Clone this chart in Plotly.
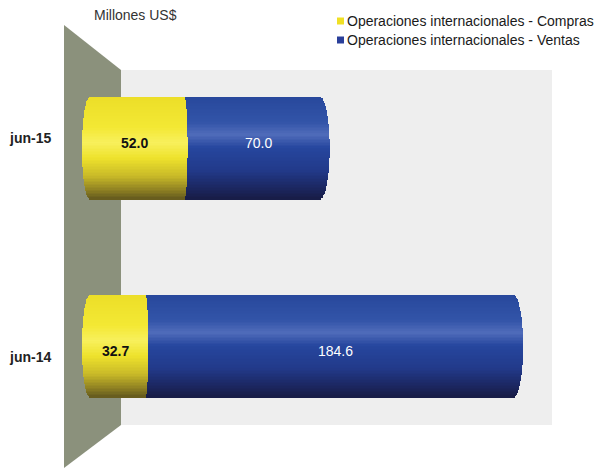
import numpy as np
import plotly.graph_objects as go

# ---- data -------------------------------------------------------------
periods = ["jun-14", "jun-15"]
compras = [32.7, 52.0]
ventas = [184.6, 70.0]
series_names = [
    "Operaciones internacionales - Compras",
    "Operaciones internacionales - Ventas",
]
unit_label = "Millones US$"

# ---- canvas / scale ---------------------------------------------------
W, H = 605, 469
X0_PX = 82.0          # pixel where value 0 sits
PX_PER_UNIT = 2.03    # horizontal scale
Y_PX = [346.0, 148.0]  # pixel centres of the two rows
ROW_PX = Y_PX[0] - Y_PX[1]
ypos = [0.0, 1.0]

x_range = [(0 - X0_PX) / PX_PER_UNIT, (W - X0_PX) / PX_PER_UNIT]
y_range = [-(H - Y_PX[0]) / ROW_PX, 1 + Y_PX[1] / ROW_PX]

BAR_W = 102.0 / ROW_PX   # bar thickness in row units
N_STRIPS = 68

# cylinder end-cap curvature, in value units
cap_left = 8.0 / PX_PER_UNIT
cap_mid = 3.0 / PX_PER_UNIT
cap_right = 10.0 / PX_PER_UNIT

yellow_stops = [
    (0.00, (236, 222, 40)),
    (0.30, (243, 232, 52)),
    (0.45, (248, 240, 92)),
    (0.60, (238, 226, 44)),
    (0.78, (200, 185, 40)),
    (0.92, (140, 126, 34)),
    (1.00, (100, 90, 30)),
]
blue_stops = [
    (0.00, (40, 72, 156)),
    (0.25, (50, 84, 168)),
    (0.37, (80, 108, 186)),
    (0.50, (38, 70, 158)),
    (0.72, (34, 58, 138)),
    (0.88, (28, 40, 100)),
    (1.00, (24, 28, 70)),
]


def shade(stops, t):
    ts = [s[0] for s in stops]
    rgb = [int(round(np.interp(t, ts, [s[1][k] for s in stops]))) for k in range(3)]
    return "rgb({},{},{})".format(*rgb)


fig = go.Figure()

strip_h = BAR_W / N_STRIPS
for i in range(N_STRIPS):
    t = (i + 0.5) / N_STRIPS
    s = 2 * t - 1
    c = np.sqrt(max(0.0, 1 - s * s))
    off = (0.5 - t) * BAR_W
    ys = [p + off for p in ypos]

    y_base = [cap_left * (1 - c) for _ in compras]
    y_end = [v - cap_mid * (1 - c) for v in compras]
    b_end = [a + b - cap_right * (1 - c) for a, b in zip(compras, ventas)]

    fig.add_trace(go.Bar(
        orientation="h", y=ys,
        base=y_base, x=[e - b for e, b in zip(y_end, y_base)],
        width=strip_h * 1.2,
        marker=dict(color=shade(yellow_stops, t), line=dict(width=0)),
        showlegend=False, hoverinfo="skip",
    ))
    fig.add_trace(go.Bar(
        orientation="h", y=ys,
        base=y_end, x=[e - b for e, b in zip(b_end, y_end)],
        width=strip_h * 1.2,
        marker=dict(color=shade(blue_stops, t), line=dict(width=0)),
        showlegend=False, hoverinfo="skip",
    ))


def px_x(px):
    return px / W


def px_y(py):
    return 1 - py / H


shapes = []
# back panel
shapes.append(dict(
    type="rect", xref="paper", yref="paper", layer="below",
    x0=px_x(121), x1=px_x(552), y0=px_y(425), y1=px_y(70),
    fillcolor="#eeeeee", line=dict(width=0),
))
# side wall
wall = [(64, 25), (121, 70), (121, 425), (64, 468)]
path = "M " + " L ".join(f"{px_x(a):.5f},{px_y(b):.5f}" for a, b in wall) + " Z"
shapes.append(dict(
    type="path", xref="paper", yref="paper", layer="below", path=path,
    fillcolor="#8b917c", line=dict(width=0),
))

FONT = "Liberation Sans, Arial, sans-serif"
annotations = []

# row labels
row_shift = [-11, 10]
for p, yy, sh in zip(periods, ypos, row_shift):
    annotations.append(dict(
        x=px_x(30), xref="paper", xanchor="center", y=yy, yref="y", yshift=sh,
        text=f"<b>{p}</b>", showarrow=False,
        font=dict(family=FONT, size=14, color="#222222"),
    ))

# value labels
val_shift = [-5, 5]
for yy, a, b, sh in zip(ypos, compras, ventas, val_shift):
    annotations.append(dict(
        x=a / 2, xanchor="center", y=yy, yshift=sh, text=f"<b>{a:.1f}</b>",
        showarrow=False, font=dict(family=FONT, size=14, color="#111111"),
    ))
    annotations.append(dict(
        x=a + b / 2, xanchor="center", y=yy, yshift=sh, text=f"{b:.1f}",
        showarrow=False, font=dict(family=FONT, size=14, color="#ffffff"),
    ))

# unit label
annotations.append(dict(
    x=px_x(92), xref="paper", y=px_y(15), yref="paper",
    xanchor="left", yanchor="middle", text=unit_label, showarrow=False,
    font=dict(family=FONT, size=14, color="#333333"),
))

# legend
legend_colors = ["#f0e024", "#2a3f9a"]
for k, (name, col) in enumerate(zip(series_names, legend_colors)):
    cy = 21 + 19 * k
    shapes.append(dict(
        type="rect", xref="paper", yref="paper",
        x0=px_x(337), x1=px_x(344), y0=px_y(cy + 3.5), y1=px_y(cy - 3.5),
        fillcolor=col, line=dict(width=0),
    ))
    annotations.append(dict(
        x=px_x(345), xref="paper", y=px_y(cy), yref="paper",
        xanchor="left", yanchor="middle", text=name, showarrow=False,
        font=dict(family=FONT, size=14, color="#1a1a1a"),
    ))

fig.update_layout(
    width=W, height=H,
    margin=dict(l=0, r=0, t=0, b=0),
    paper_bgcolor="white", plot_bgcolor="white",
    barmode="overlay", bargap=0,
    showlegend=False,
    xaxis=dict(range=x_range, visible=False, fixedrange=True),
    yaxis=dict(range=y_range, visible=False, fixedrange=True),
    shapes=shapes, annotations=annotations,
)

fig.write_html("out.html")
